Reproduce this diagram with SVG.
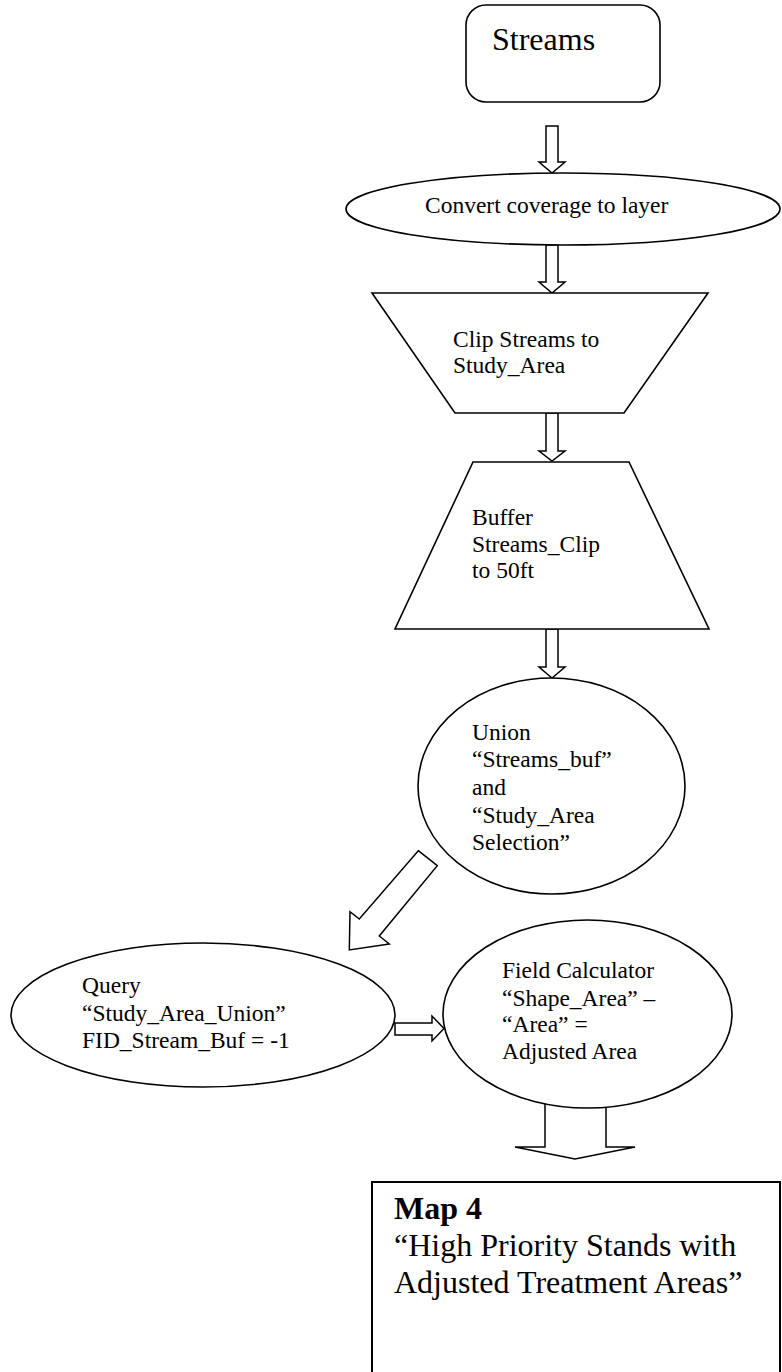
<svg xmlns="http://www.w3.org/2000/svg" width="782" height="1372" viewBox="0 0 782 1372">
  <style>
    .shape { fill: #ffffff; stroke: #000000; stroke-width: 1.6; }
    .arrow { fill: #ffffff; stroke: #000000; stroke-width: 1.5; stroke-linejoin: miter; }
    .t { font-family: "Liberation Serif", "Times New Roman", serif; font-size: 23.5px; fill: #000000; }
    .big { font-family: "Liberation Serif", "Times New Roman", serif; font-size: 32px; fill: #000000; }
    .bold { font-weight: bold; }
  </style>
  <rect width="782" height="1372" fill="#ffffff"/>

  <g id="connectors">
    <path class="arrow" d="M546,126 H558 V162 H565 L552,173 L539,162 H546 Z"/>
    <path class="arrow" d="M546,245 H558 V282 H565 L552,293 L539,282 H546 Z"/>
    <path class="arrow" d="M546,413 H558 V451 H565 L552,461 L539,451 H546 Z"/>
    <path class="arrow" d="M546,629 H558 V667 H565 L552,678 L539,667 H546 Z"/>
    <path class="arrow" d="M418.3,850.7 L437.3,865.7 L379.3,936 L389.3,944 L349.3,950 L350,911.7 L359.3,919 Z"/>
    <path class="arrow" d="M395,1023 H432 V1016 L444,1028.5 L432,1041 V1035 H395 Z"/>
    <path class="arrow" d="M545,1104 V1147 H515 L575,1159 L635,1147 H606 V1104"/>
  </g>

  <g id="streams">
    <rect class="shape" x="466" y="5" width="194" height="97" rx="20" ry="20"/>
    <text class="big" x="492" y="50">Streams</text>
  </g>

  <g id="convert">
    <ellipse class="shape" cx="563" cy="209" rx="217" ry="36"/>
    <text class="t" x="425" y="213">Convert coverage to layer</text>
  </g>

  <g id="clip">
    <polygon class="shape" points="372,293 708,293 624,413 455,413"/>
    <text class="t" x="453" y="347">Clip Streams to</text>
    <text class="t" x="453" y="373">Study_Area</text>
  </g>

  <g id="buffer">
    <polygon class="shape" points="473,462 629,462 709,629 395,629"/>
    <text class="t" x="472" y="525">Buffer</text>
    <text class="t" x="472" y="552">Streams_Clip</text>
    <text class="t" x="472" y="578">to 50ft</text>
  </g>

  <g id="union">
    <ellipse class="shape" cx="551.5" cy="786" rx="133.5" ry="108"/>
    <text class="t" x="472" y="740">Union</text>
    <text class="t" x="472" y="767">“Streams_buf”</text>
    <text class="t" x="472" y="795">and</text>
    <text class="t" x="472" y="823">“Study_Area</text>
    <text class="t" x="472" y="850">Selection”</text>
  </g>

  <g id="query">
    <ellipse class="shape" cx="203" cy="1015" rx="192" ry="72"/>
    <text class="t" x="82" y="993">Query</text>
    <text class="t" x="82" y="1021">“Study_Area_Union”</text>
    <text class="t" x="82" y="1048">FID_Stream_Buf = -1</text>
  </g>

  <g id="field-calculator">
    <ellipse class="shape" cx="587.5" cy="1014" rx="144.5" ry="94"/>
    <text class="t" x="502" y="978">Field Calculator</text>
    <text class="t" x="502" y="1006">“Shape_Area” –</text>
    <text class="t" x="502" y="1032">“Area” =</text>
    <text class="t" x="502" y="1059">Adjusted Area</text>
  </g>

  <g id="map4">
    <rect class="shape" x="372" y="1182" width="408" height="210" style="stroke-width:2"/>
    <text class="big bold" x="394" y="1219">Map 4</text>
    <text class="big" x="394" y="1256">“High Priority Stands with</text>
    <text class="big" x="394" y="1293">Adjusted Treatment Areas”</text>
  </g>
</svg>
